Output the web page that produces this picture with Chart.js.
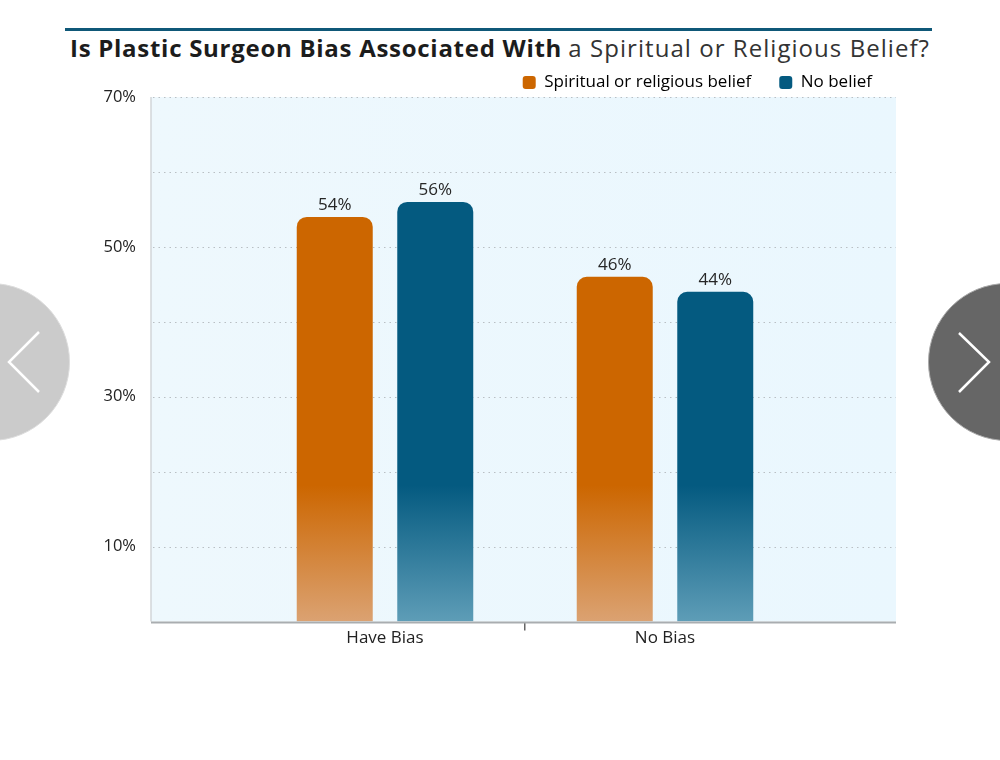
<!DOCTYPE html>
<html>
<head>
<meta charset="utf-8">
<script src="https://cdn.jsdelivr.net/npm/chart.js@4"></script>
<style>
  body { margin: 0; background: #fff; font-family: "Open Sans", sans-serif; }
  #wrap { position: relative; width: 1000px; height: 760px; overflow: hidden; }
  #rule { position: absolute; left: 65px; top: 28px; width: 867px; height: 3px; background: #0f5878; }
  #title { position: absolute; left: 70px; top: 31px; font-size: 24px; color: #1c1c1c; white-space: nowrap; }
  #title b { font-weight: 700; letter-spacing: 0.72px; }
  #title span { font-weight: 400; color: #333; letter-spacing: 1.05px; }
  #myChart { position: absolute; left: 0; top: 46px; }
  .nav { position: absolute; top: 283px; width: 156px; height: 156px; border-radius: 50%; }
  #prev { left: -88px; background: #cbcbcb; border: 1px solid #ddd; }
  #next { left: 928px; background: #666; border: 1px solid #aaa; }
  .nav svg { position: absolute; top: 0; }
</style>
</head>
<body>
<div id="wrap">
  <div id="rule"></div>
  <div id="title"><b>Is Plastic Surgeon Bias Associated With</b> <span>a Spiritual or Religious Belief?</span></div>
  <canvas id="myChart" width="900" height="599"></canvas>
  <div class="nav" id="prev"><svg width="156" height="156"><polyline points="126,48 96,78 126,108" fill="none" stroke="#fff" stroke-width="2.5"/></svg></div>
  <div class="nav" id="next"><svg width="156" height="156"><polyline points="30,49 60,78 30,108" fill="none" stroke="#fff" stroke-width="2.5"/></svg></div>
</div>
<script>
// chart data
var categories = ['Have Bias', 'No Bias'];
var seriesNames = ['Spiritual or religious belief', 'No belief'];
var beliefValues = [54, 46];
var noBeliefValues = [56, 44];
var yTicks = [0, 10, 20, 30, 40, 50, 60, 70];
var yLabels = ['10%', '30%', '50%', '70%'];

var orangeTop = '#cc6600', orangeBottom = '#dba272';
var blueTop = '#045a80', blueBottom = '#5e9db7';

function barGradient(top, bottom) {
    return function(context) {
        var area = context.chart.chartArea;
        if (!area) return top;
        var g = context.chart.ctx.createLinearGradient(0, area.bottom, 0, area.top);
        g.addColorStop(0, bottom);
        g.addColorStop(0.26, top);
        g.addColorStop(1, top);
        return g;
    };
}

// light blue panel, dotted grid, axis lines (wider than the bar area)
var panelLeft = 151, panelRight = 896;
var backdrop = {
    id: 'backdrop',
    beforeDatasetsDraw: function(chart) {
        var ctx = chart.ctx, a = chart.chartArea, y = chart.scales.y;
        ctx.save();
        var bg = ctx.createLinearGradient(panelLeft, 0, panelRight, 0);
        bg.addColorStop(0, '#eef8fd');
        bg.addColorStop(1, '#eaf7fe');
        ctx.fillStyle = bg;
        ctx.fillRect(panelLeft, a.top, panelRight - panelLeft, a.bottom - a.top);
        ctx.strokeStyle = '#b9bfc4';
        ctx.lineWidth = 1.2;
        ctx.setLineDash([1.5, 4]);
        yTicks.forEach(function(v) {
            if (v === 0) return;
            var py = Math.round(y.getPixelForValue(v)) + 0.5;
            ctx.beginPath();
            ctx.moveTo(panelLeft + 2, py);
            ctx.lineTo(panelRight, py);
            ctx.stroke();
        });
        ctx.setLineDash([]);
        ctx.strokeStyle = '#d2d6d9';
        ctx.lineWidth = 1.5;
        ctx.beginPath();
        ctx.moveTo(panelLeft, a.top);
        ctx.lineTo(panelLeft, a.bottom);
        ctx.stroke();
        ctx.restore();
    },
    afterDatasetsDraw: function(chart) {
        var ctx = chart.ctx, a = chart.chartArea;
        ctx.save();
        ctx.strokeStyle = '#a9adb0';
        ctx.lineWidth = 2;
        ctx.beginPath();
        ctx.moveTo(panelLeft, a.bottom + 1);
        ctx.lineTo(panelRight, a.bottom + 1);
        ctx.stroke();
        // value labels
        ctx.fillStyle = '#262626';
        ctx.font = '17px "Open Sans"';
        ctx.textAlign = 'center';
        ctx.textBaseline = 'bottom';
        chart.data.datasets.forEach(function(ds, i) {
            chart.getDatasetMeta(i).data.forEach(function(bar, j) {
                ctx.fillText(ds.data[j] + '%', bar.x, bar.y - 3);
            });
        });
        ctx.restore();
    }
};

var ctx = document.getElementById('myChart').getContext('2d');
var chart = new Chart(ctx, {
    type: 'bar',
    data: {
        labels: categories,
        datasets: [{
            label: seriesNames[0],
            data: beliefValues,
            backgroundColor: barGradient(orangeTop, orangeBottom),
            borderRadius: { topLeft: 10, topRight: 10 },
            borderSkipped: 'bottom'
        }, {
            label: seriesNames[1],
            data: noBeliefValues,
            backgroundColor: barGradient(blueTop, blueBottom),
            borderRadius: { topLeft: 10, topRight: 10 },
            borderSkipped: 'bottom'
        }]
    },
    options: {
        responsive: false,
        animation: false,
        categoryPercentage: 0.718,
        barPercentage: 0.756,
        layout: { padding: 0 },
        plugins: {
            title: { display: false },
            tooltip: { enabled: false },
            legend: {
                position: 'top',
                align: 'end',
                labels: {
                    color: '#222',
                    font: { family: 'Open Sans', size: 17 },
                    boxWidth: 13,
                    boxHeight: 13,
                    padding: 28,
                    useBorderRadius: true,
                    borderRadius: 3,
                    generateLabels: function(c) {
                        return seriesNames.map(function(name, i) {
                            return {
                                text: name,
                                fillStyle: i === 0 ? orangeTop : blueTop,
                                strokeStyle: i === 0 ? orangeTop : blueTop,
                                lineWidth: 0,
                                borderRadius: 3,
                                datasetIndex: i
                            };
                        });
                    }
                }
            }
        },
        scales: {
            x: {
                grid: {
                    drawOnChartArea: false,
                    drawTicks: true,
                    tickLength: 9,
                    lineWidth: 1.5,
                    color: function(c) { return c.index === 1 ? '#666' : 'rgba(0,0,0,0)'; }
                },
                border: { display: false },
                ticks: { color: '#222', font: { family: 'Open Sans', size: 17 }, padding: -3 }
            },
            y: {
                min: 0,
                max: 70,
                afterBuildTicks: function(s) { s.ticks = yTicks.map(function(v) { return { value: v }; }); },
                afterFit: function(s) { s.width = 245; s.paddingTop = 10; s.paddingBottom = 10; },
                grid: { display: false, drawTicks: false },
                border: { display: false },
                ticks: {
                    color: '#222',
                    padding: 109,
                    font: { family: 'Open Sans', size: 16.5 },
                    callback: function(v) { return yLabels.indexOf(v + '%') >= 0 ? v + '%' : ''; }
                }
            },
            yR: {
                position: 'right',
                afterFit: function(s) { s.width = 95; s.paddingTop = 0; s.paddingBottom = 0; },
                grid: { display: false, drawTicks: false },
                border: { display: false },
                ticks: { display: false }
            }
        }
    },
    plugins: [backdrop]
});

// legend sits a little closer to the plot than chart.js leaves it
var legendFit = chart.legend.fit;
chart.legend.fit = function() {
    legendFit.call(this);
    this.height -= 4;
};
chart.update();
</script>
</body>
</html>
